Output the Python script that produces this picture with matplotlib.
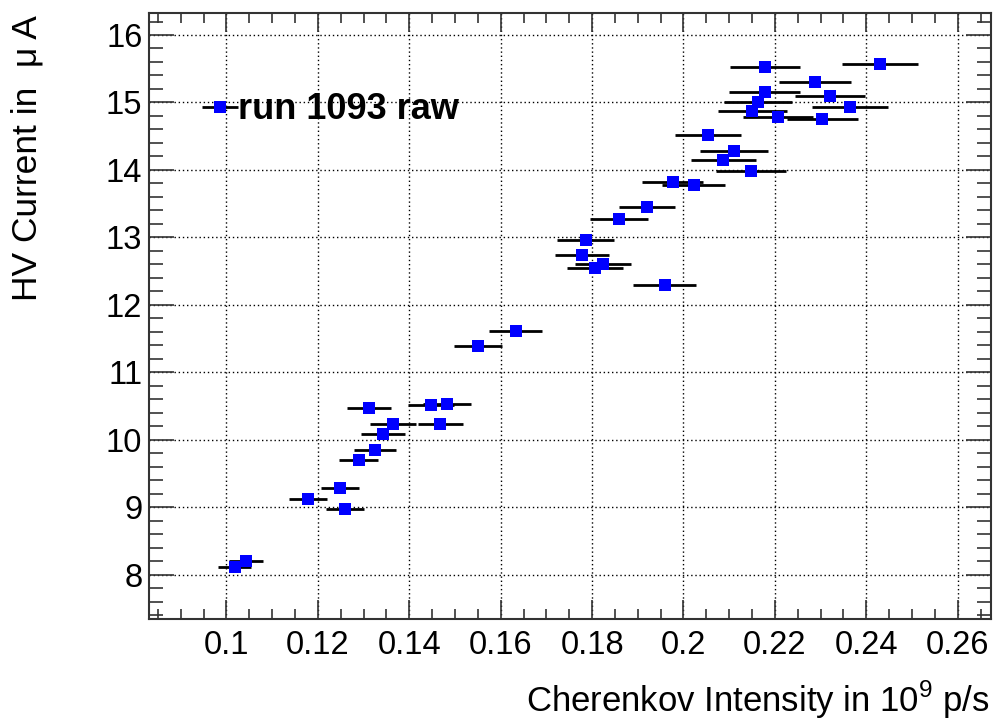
import matplotlib
matplotlib.use("Agg")
import matplotlib.pyplot as plt
from matplotlib.ticker import MultipleLocator

plt.rcParams['font.family'] = ['Liberation Sans', 'DejaVu Sans']
plt.rcParams['mathtext.fontset'] = 'custom'
plt.rcParams['mathtext.rm'] = 'Liberation Sans'

# Cherenkov intensity (10^9 p/s), its error, HV current (uA)
intensity = [0.1633, 0.1550, 0.1312, 0.1447, 0.1482, 0.1365, 0.1468, 0.1343,
             0.1325, 0.1289, 0.1249, 0.1179, 0.1260, 0.1042, 0.1018,
             0.2431, 0.2178, 0.2288, 0.2178, 0.2320, 0.2163, 0.2365, 0.2151,
             0.2207, 0.2304, 0.2053, 0.2111, 0.2087, 0.2148, 0.1976, 0.2022,
             0.1921, 0.1859, 0.1786, 0.1777, 0.1824, 0.1806, 0.1959]
intensity_err = [0.0058, 0.0053, 0.0048, 0.0050, 0.0053, 0.0050, 0.0049, 0.0048,
                 0.0046, 0.0042, 0.0042, 0.0042, 0.0042, 0.0037, 0.0036,
                 0.0083, 0.0077, 0.0078, 0.0078, 0.0077, 0.0074, 0.0083, 0.0075,
                 0.0077, 0.0078, 0.0072, 0.0074, 0.0071, 0.0077, 0.0067, 0.0068,
                 0.0061, 0.0063, 0.0063, 0.0059, 0.0061, 0.0061, 0.0069]
current = [11.61, 11.39, 10.47, 10.51, 10.53, 10.23, 10.23, 10.09,
           9.85, 9.70, 9.28, 9.12, 8.98, 8.20, 8.12,
           15.575, 15.53, 15.31, 15.16, 15.10, 15.00, 14.93, 14.88,
           14.79, 14.76, 14.52, 14.28, 14.14, 13.98, 13.82, 13.77,
           13.45, 13.27, 12.96, 12.74, 12.61, 12.54, 12.30]

fig = plt.figure(figsize=(9.95, 7.24), dpi=100)
ax = fig.add_axes([0.150, 0.1454, 0.846, 0.837])

ax.errorbar(intensity, current, xerr=intensity_err, fmt='s', color='#0000ff',
            markersize=8, markeredgewidth=0, ecolor='black', elinewidth=2,
            capsize=0, label='run 1093 raw', zorder=3)

ax.set_xlim(0.0831, 0.2673)
ax.set_ylim(7.348, 16.33)
ax.xaxis.set_major_locator(MultipleLocator(0.02))
ax.xaxis.set_minor_locator(MultipleLocator(0.005))
ax.yaxis.set_major_locator(MultipleLocator(1))
ax.yaxis.set_minor_locator(MultipleLocator(0.2))
ax.set_xticks([0.1, 0.12, 0.14, 0.16, 0.18, 0.2, 0.22, 0.24, 0.26])
ax.set_xticklabels(['0.1', '0.12', '0.14', '0.16', '0.18', '0.2', '0.22', '0.24', '0.26'])

ax.grid(True, which='major', color='black', linestyle=(0, (1, 2)), linewidth=1)
ax.tick_params(axis='both', which='both', direction='in', top=True, right=True,
               labelsize=23.5, color='#333333', width=1.2)
ax.tick_params(axis='x', which='major', length=14, pad=8)
ax.tick_params(axis='x', which='minor', length=7)
ax.tick_params(axis='y', which='major', length=18, pad=5)
ax.tick_params(axis='y', which='minor', length=10)
for s in ax.spines.values():
    s.set_linewidth(1.5)
    s.set_color('#333333')

fig.text(0.027, 0.979, 'HV Current in  \u03bc A', rotation=90, ha='center', va='top', fontsize=25.5)
fig.text(0.995, 0.004, r'Cherenkov Intensity in 10$^{\mathregular{9}}$ p/s', ha='right', va='bottom', fontsize=25)

ax.legend(loc='center left', bbox_to_anchor=(0.063, 0.840), frameon=False,
          prop={'weight': 'bold', 'size': 26}, handlelength=1.0, handletextpad=0.0,
          borderpad=0, borderaxespad=0)

fig.savefig('out.png', dpi=100)
